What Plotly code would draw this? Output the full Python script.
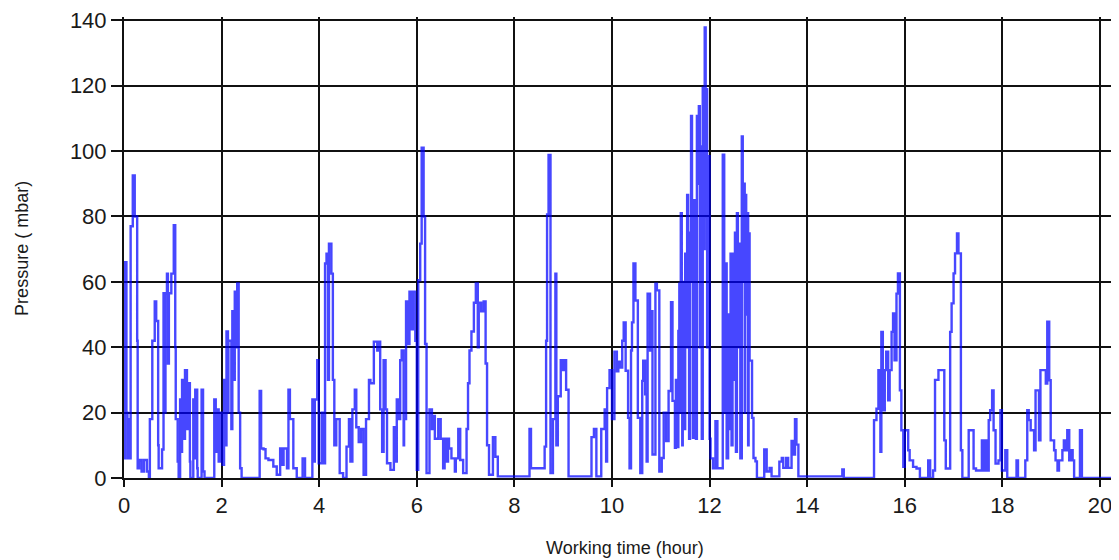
import plotly.graph_objects as go

# pressure log (hours, mbar)
hours_0 = [0.00, 0.02, 0.05, 0.07, 0.10, 0.12, 0.136, 0.18, 0.22, 0.27, 0.28, 0.31, 0.36, 0.41, 0.47, 0.51,
           0.53, 0.58, 0.63, 0.66, 0.70, 0.71, 0.78, 0.81, 0.84, 0.85, 0.88, 0.90, 0.92, 0.97, 1.02, 1.05,
           1.06, 1.10, 1.12, 1.15, 1.17, 1.19, 1.22, 1.25, 1.29, 1.31, 1.35, 1.36, 1.42, 1.44, 1.46, 1.50,
           1.51, 1.59, 1.62, 1.65, 1.85, 1.88, 1.90, 1.94, 1.97, 2.02, 2.05, 2.08, 2.10, 2.13, 2.14, 2.20,
           2.22, 2.25, 2.27, 2.30, 2.32, 2.35, 2.38, 2.41]
pressure_0 = [6, 66, 20, 6, 18, 6, 77, 92.5, 80, 42, 3, 5.5, 2, 5.5, 2, 0,
              18, 42, 54, 48, 10, 3, 8.7, 56.5, 20, 56.5, 62.5, 35, 56.5, 62.5, 77.3, 40,
              18, 5, 0, 24, 8, 30, 12, 33, 15, 29, 5, 0, 24, 6, 27, 3,
              0, 27, 2, 0, 24, 8, 21, 5, 20, 4, 30, 10, 44.8, 20, 42, 15,
              51, 30, 57, 40, 59.5, 20, 3, 0]

hours_1 = [2.45, 2.78, 2.81, 2.86, 2.90, 2.96, 3.06, 3.13, 3.20, 3.23, 3.27, 3.34, 3.37, 3.40, 3.47,
           3.54, 3.66, 3.71, 3.86, 3.89, 3.91, 3.96, 3.99, 4.05, 4.08, 4.12, 4.15, 4.18, 4.20, 4.25,
           4.28, 4.31, 4.35, 4.42, 4.49, 4.56, 4.61, 4.64, 4.68, 4.73, 4.76, 4.81, 4.86, 4.91, 4.96]
pressure_1 = [0, 26.6, 9, 8.8, 6, 5.5, 3.5, 1, 9, 4, 9, 3, 27, 18, 3,
              0, 6, 0, 24, 5, 24, 36, 4.5, 20, 4.5, 65.6, 68.6, 30, 71.7, 62.5,
              30, 10, 18, 1.5, 0, 9.6, 18, 5, 21, 27, 15.5, 11, 15, 1, 18]

hours_2 = [5.02, 5.05, 5.12, 5.19, 5.22, 5.25, 5.29, 5.32, 5.36, 5.39, 5.46, 5.53, 5.56, 5.59, 5.63,
           5.66, 5.69, 5.73, 5.74, 5.78, 5.81, 5.85, 5.88, 5.92, 5.97, 6.00, 6.03, 6.07, 6.10, 6.14,
           6.17, 6.20, 6.26, 6.31, 6.34, 6.37, 6.44, 6.49, 6.54, 6.57, 6.61, 6.64, 6.66, 6.71, 6.78,
           6.80, 6.85, 6.89, 6.95, 7.02, 7.05, 7.08, 7.12, 7.17, 7.21, 7.25, 7.27, 7.32, 7.37, 7.41,
           7.44, 7.48, 7.56, 7.61, 7.66]
pressure_2 = [30, 29, 41.7, 39, 41.7, 21, 8, 36, 21, 4.5, 2.5, 15.5, 5, 24, 18,
              36, 39, 10, 18, 54, 41, 57, 45.5, 57, 42, 2.5, 60.5, 71.7, 101, 80,
              41, 1.5, 21, 15, 19, 12, 18, 12, 3, 12, 5, 12, 9, 6, 2,
              6, 15, 5.5, 1.5, 15, 29, 39, 44.8, 53.6, 59.5, 40, 53.6, 51, 54, 35,
              10, 1, 12.5, 6.5, 0.5]

hours_3 = [8.31, 8.34, 8.62, 8.65, 8.67, 8.70, 8.74, 8.79, 8.84, 8.86, 8.89, 8.95, 8.99, 9.03,
           9.06, 9.11, 9.58, 9.63, 9.68, 9.78, 9.85, 9.88, 9.90, 9.95, 10.00, 10.05, 10.10, 10.13]
pressure_3 = [15, 3, 9.6, 42, 80.6, 98.8, 1.5, 18, 62.5, 10, 25, 36, 33, 36,
              27, 0.5, 12.5, 15, 0.5, 15, 21, 5, 27.5, 33, 18, 38.6, 32.6, 35.6]

hours_4 = [10.16, 10.21, 10.24, 10.28, 10.33, 10.36, 10.39, 10.41, 10.44, 10.48, 10.53, 10.58, 10.62,
           10.64, 10.68, 10.71, 10.73, 10.78, 10.81, 10.83, 10.89, 10.92, 10.97, 11.02, 11.06, 11.11,
           11.16, 11.21, 11.24,
           11.29, 11.31, 11.33, 11.36, 11.38, 11.40, 11.41, 11.43, 11.44, 11.45, 11.47, 11.48, 11.50,
           11.52, 11.54, 11.56, 11.58, 11.60, 11.62, 11.64, 11.66, 11.68, 11.70, 11.72, 11.74, 11.76,
           11.78, 11.80, 11.82, 11.84, 11.86, 11.88, 11.90, 11.92, 11.93, 11.95, 11.97]
pressure_4 = [33.8, 42, 47.6, 32.8, 18.4, 3, 39, 47.6, 65.6, 54.3, 18.4, 1.5, 29.7,
              35.9, 25.6, 5, 56.4, 39, 51, 7.2, 59.4, 57.4, 2, 6.1, 20, 11.3,
              26.6, 53.8, 23.6,
              9.2, 30, 9.5, 45, 59.4, 20, 81, 50, 10, 41, 60, 15, 68.6,
              40, 86.6, 42, 12, 75, 110.7, 60, 12.3, 85, 69.7, 12, 110.7, 90,
              113.7, 40, 101.4, 12, 119.4, 70, 137.8, 80, 118.9, 40, 98.4]

hours_5 = [12.00, 12.02, 12.07, 12.12, 12.16, 12.27, 12.30, 12.33, 12.35, 12.38, 12.40, 12.43, 12.45,
           12.47, 12.50, 12.52, 12.54, 12.56, 12.58, 12.61, 12.63, 12.66, 12.68, 12.70, 12.72, 12.73,
           12.75, 12.77, 12.79, 12.80, 12.82, 12.87, 12.90, 12.94, 12.97, 13.12, 13.17, 13.23, 13.27,
           13.43, 13.48, 13.51, 13.57, 13.61, 13.68, 13.72, 13.75, 13.78, 13.82, 14.72, 14.75]
pressure_5 = [12, 6, 3, 17.4, 3, 98.9, 20, 65.6, 6, 50, 15, 68.6, 10,
              68.6, 30, 75, 8, 81, 40, 71.7, 6, 104.5, 60, 90, 20, 86.6,
              50, 81, 10, 74.8, 35.9, 18.4, 6.1, 5.1, 0, 8.7, 2, 3.1, 0.5,
              5, 6.1, 3.1, 6.1, 3.1, 11.3, 7.2, 18, 10.2, 0.5, 2.6, 0]

hours_6 = [15.37, 15.42, 15.46, 15.50, 15.52, 15.55, 15.59, 15.62, 15.66, 15.69, 15.73, 15.76, 15.79,
           15.83, 15.86, 15.90, 15.93, 15.97, 16.00, 16.07, 16.10, 16.17, 16.24, 16.31, 16.48, 16.52,
           16.58, 16.62, 16.69, 16.81, 16.84, 16.93, 16.96, 17.00, 17.03, 17.07, 17.10, 17.15, 17.18,
           17.31, 17.41, 17.46, 17.58, 17.62, 17.65, 17.68, 17.72, 17.75, 17.79, 17.82, 17.86, 17.92,
           17.96, 17.99, 18.06, 18.10, 18.29, 18.32, 18.47, 18.51, 18.54, 18.58, 18.65, 18.68, 18.75,
           18.78, 18.89, 18.92, 18.96, 18.99, 19.06, 19.09, 19.13, 19.16, 19.23, 19.26, 19.30, 19.33,
           19.37, 19.40, 19.44, 19.47, 19.59, 19.63, 20.40]
pressure_6 = [17.7, 21.2, 33, 8, 44.7, 20.7, 33, 38.6, 23.8, 33, 44.7, 50.3, 36,
              56.4, 62.6, 26.8, 14.6, 3.4, 14.6, 8.5, 5.4, 3.4, 2.9, 0, 5.4, 0,
              2.3, 30, 33, 11.5, 2.9, 44.7, 53.4, 62.6, 68.7, 74.8, 68.7, 8.5, 0,
              14.6, 2.9, 2.3, 11.5, 2.3, 11.5, 2.3, 17.7, 20.7, 26.8, 14.6, 4.4, 5.4,
              20.7, 2.3, 8.5, 0, 5.4, 0, 5.4, 20.7, 17.7, 14.6, 8.5, 26.8, 11.5,
              33, 28.9, 47.8, 29.9, 11.5, 8.5, 5.4, 2.3, 5.4, 8.5, 11.5, 8.5, 14.6,
              5.4, 8.5, 5.4, 0, 14.6, 0, 0]

x_ticks = [0, 2, 4, 6, 8, 10, 12, 14, 16, 18, 20]
y_ticks = [0, 20, 40, 60, 80, 100, 120, 140]

hours = hours_0 + hours_1 + hours_2 + hours_3 + hours_4 + hours_5 + hours_6
pressure = pressure_0 + pressure_1 + pressure_2 + pressure_3 + pressure_4 + pressure_5 + pressure_6
assert len(hours) == len(pressure)

fig = go.Figure()
fig.add_trace(go.Scatter(
    x=hours,
    y=pressure,
    mode="lines",
    line=dict(color="rgba(0,0,255,0.72)", width=2.4, shape="hv"),
    showlegend=False,
))

font = "Liberation Sans, Arial, sans-serif"
# the page body adds an 8px offset, margins allow for it
fig.update_layout(
    width=1119, height=560,
    margin=dict(l=116, r=8, t=9, b=90),
    paper_bgcolor="white", plot_bgcolor="white",
    font=dict(family=font, color="#1a1a1a"),
)
axis_style = dict(
    showgrid=True, gridcolor="#111", gridwidth=2,
    showline=True, linecolor="#111", linewidth=2,
    ticks="outside", tickcolor="#111", tickwidth=2,
    tickfont=dict(size=22), zeroline=False, automargin=False,
    ticklabeloverflow="allow",
)
fig.update_xaxes(range=[0, 20.39], tickvals=x_ticks, ticklen=7, **axis_style)
# a little headroom over 140 so the top tick and gridline are kept
fig.update_yaxes(range=[0, 141], tickvals=y_ticks, ticklen=11, **axis_style)

# axis titles placed as annotations so they sit where the reference has them
fig.add_annotation(text="Working time (hour)", xref="paper", yref="paper",
                   x=0.504, y=0, yshift=-70, showarrow=False,
                   font=dict(size=18), xanchor="center", yanchor="middle")
fig.add_annotation(text="Pressure ( mbar)", xref="paper", yref="paper",
                   x=0, y=0.497, xshift=-102, showarrow=False, textangle=-90,
                   font=dict(size=18), xanchor="center", yanchor="middle")

fig.write_html("out.html")
